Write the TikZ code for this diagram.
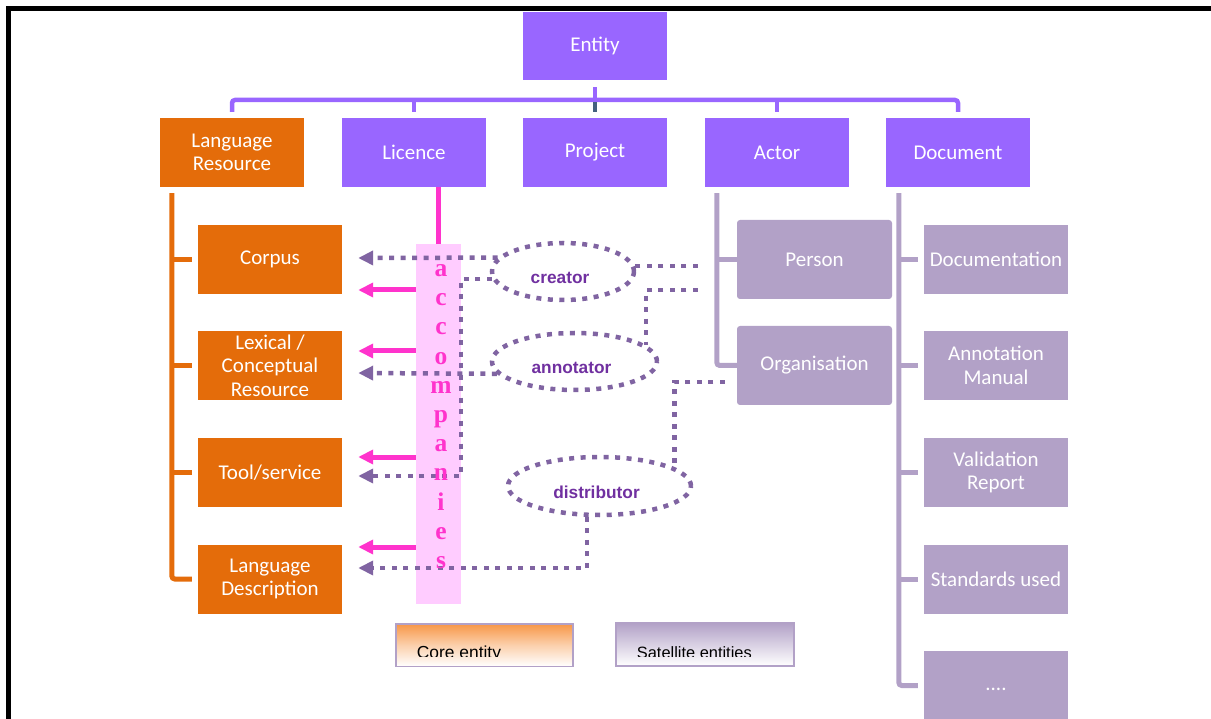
\documentclass[tikz,border=0pt]{standalone}
\usepackage{fontspec}
\setmainfont{Carlito}
\newfontfamily\arialf{Liberation Sans}
\newfontfamily\timesf{Liberation Serif}
\usetikzlibrary{shapes.geometric,arrows.meta}
\definecolor{orng}{HTML}{E46C0A}
\definecolor{purp}{HTML}{9966FF}
\definecolor{lav}{HTML}{B2A1C7}
\definecolor{pinkc}{HTML}{FF33CC}
\definecolor{pinkl}{HTML}{FFCCFF}
\definecolor{dotc}{HTML}{8064A2}
\definecolor{elltxt}{HTML}{7030A0}
\definecolor{slate}{HTML}{44607F}
\definecolor{legor}{HTML}{F79646}
\begin{document}
\begin{tikzpicture}[x=1pt,y=-1pt,
 box/.style={rectangle, inner sep=0pt, minimum width=144pt, minimum height=69pt, align=center, text=white, font=\fontsize{21}{23.5}\selectfont},
 corebox/.style={box, fill=orng},
 topbox/.style={box, fill=purp},
 satbox/.style={box, fill=lav},
 rsatbox/.style={satbox, rounded corners=3pt, minimum width=155pt, minimum height=79pt},
 otree/.style={draw=orng, line width=5pt, rounded corners=3pt},
 ltree/.style={draw=lav, line width=5pt, rounded corners=3pt},
 ptree/.style={draw=purp, line width=4.5pt, rounded corners=3pt},
 dotline/.style={draw=dotc, line width=4.5pt, dash pattern=on 5pt off 6.5pt},
 dotarrow/.style={dotline, -{Triangle[length=15pt,width=14pt]}},
 pinkarrow/.style={draw=pinkc, line width=5pt, -{Triangle[length=15pt,width=14pt]}},
 role/.style={ellipse, draw=dotc, line width=4.5pt, dash pattern=on 5pt off 6.5pt, inner sep=0pt},
 rolelbl/.style={font=\arialf\bfseries\fontsize{17.3}{20}\selectfont, text=elltxt, yshift=-6pt, xshift=-3pt},
 accl/.style={font=\timesf\bfseries\fontsize{25.5}{25.5}\selectfont, text=pinkc, anchor=base, inner sep=0pt},
 legbox/.style={rectangle, draw=lav, line width=1.5pt, inner sep=0pt},
 legtxt/.style={anchor=base west, inner sep=0pt, text=black}
]
\useasboundingbox (0,0) rectangle (1211,719);
% frame
\draw[line width=5pt, line join=miter] (8.5,719) -- (8.5,8.3) -- (1211,8.3);

% boxes
\node[topbox, minimum height=68pt] (entity) at (595,46) {Entity};
\node[corebox] (lr) at (232,152.5) {Language\\Resource};
\node[topbox] (lic) at (414,152.5) {Licence};
\node[topbox] (proj) at (595,152.5) {Project};
\node[topbox] (actor) at (777,152.5) {Actor};
\node[topbox] (doc) at (958,152.5) {Document};

\node[corebox] (corpus) at (270,259.5) {Corpus};
\node[corebox] (lex) at (270,365.5) {Lexical /\\Conceptual\\Resource};
\node[corebox] (tool) at (270,472.5) {Tool/service};
\node[corebox] (ld) at (270,579) {Language\\Description};

\node[rsatbox] (person) at (814.5,259.5) {Person};
\node[rsatbox] (org) at (814.5,365.5) {Organisation};

\node[satbox] (docu) at (996,259.5) {Documentation};
\node[satbox] (annman) at (996,365.5) {Annotation\\Manual};
\node[satbox] (valrep) at (996,472.5) {Validation\\Report};
\node[satbox] (std) at (996,579) {Standards used};
\node[satbox] (more) at (996,685.5) {\strut....};

% top-level connectors
\coordinate (barY) at (0,100);
\coordinate (barY2) at (0,102.5);
\draw[ptree, rounded corners=0pt] ([yshift=-7pt]entity.south) -- (entity.south |- barY);
\draw[ptree] ([yshift=6pt]lr.north) -- (lr.north |- barY) -- (doc.north |- barY) -- ([yshift=6pt]doc.north);
\draw[ptree] (lic.north |- barY) -- ([yshift=6pt]lic.north);
\draw[ptree] (actor.north |- barY) -- ([yshift=6pt]actor.north);
\draw[ptree, draw=slate, line width=3.5pt] (proj.north |- barY2) -- ([yshift=6pt]proj.north);

% orange tree
\coordinate (ot) at ([xshift=12pt,yshift=-6pt]lr.south west);
\draw[otree] (ot) |- ([xshift=-6pt]ld.west);
\foreach \n in {corpus,lex,tool} \draw[otree, rounded corners=0pt] (ot |- \n.west) -- ([xshift=-6pt]\n.west);

% actor tree
\coordinate (at) at ([xshift=12pt,yshift=-6pt]actor.south west);
\draw[ltree] (at) |- (org.west);
\draw[ltree, rounded corners=0pt] (at |- person.west) -- (person.west);

% document tree
\coordinate (dt) at ([xshift=13pt,yshift=-6pt]doc.south west);
\draw[ltree] (dt) |- ([xshift=-6pt]more.west);
\foreach \n in {docu,annman,valrep,std} \draw[ltree, rounded corners=0pt] (dt |- \n.west) -- ([xshift=-6pt]\n.west);

% licence / accompanies
\node[rectangle, fill=pinkl, minimum width=45pt, minimum height=360pt, inner sep=0pt] (accrect) at (438.5,424) {};
\draw[pinkc, line width=5pt] (lic.south -| accrect.north) -- (accrect.north);

\coordinate (tcD) at ([xshift=16pt,yshift=1.5pt]corpus.east);
\coordinate (tcP) at ([xshift=16pt,yshift=-30.5pt]corpus.east);
\coordinate (tlP) at ([xshift=16pt,yshift=14.5pt]lex.east);
\coordinate (tlD) at ([xshift=16pt,yshift=-7.5pt]lex.east);
\coordinate (ttP) at ([xshift=16pt,yshift=15.5pt]tool.east);
\coordinate (ttD) at ([xshift=16pt,yshift=-3.5pt]tool.east);
\coordinate (tdP) at ([xshift=16pt,yshift=32pt]ld.east);
\coordinate (tdD) at ([xshift=16pt,yshift=11pt]ld.east);

\foreach \t in {tcP,tlP,ttP,tdP} \draw[pinkarrow] (accrect.west |- \t) -- (\t);

% roles
\node[role, minimum width=142pt, minimum height=57pt, label={[rolelbl]center:creator}] (creator) at (563,271.5) {};
\node[role, minimum width=165pt, minimum height=57pt, label={[rolelbl]center:annotator}] (annot) at (574.5,361.5) {};
\node[role, minimum width=183pt, minimum height=58pt, label={[rolelbl]center:distributor}] (distr) at (599.5,486) {};

\coordinate (pA) at ([xshift=-39pt,yshift=-6.5pt]person.west);
\coordinate (pB) at ([xshift=-39pt,yshift=-30.5pt]person.west);
\coordinate (oA) at ([xshift=-12pt,yshift=-16.5pt]org.west);

\draw[dotarrow] (creator.168) -- (tcD);
\draw[dotarrow] (creator.186) -| (ttD -| accrect.east) -- (ttD);
\draw[dotarrow] (annot.189) -- (tlD);
\draw[dotarrow] (distr.248) |- (tdD);
\draw[dotline] (pA) -- (pA -| creator.5);
\draw[dotline] (pB) -| (annot.13);
\draw[dotline] (oA) -| (distr.14);

% letters
\foreach \l [count=\i from 0] in {a,c,c,o,m,p,a,n,i,e,s}
  \node[accl] (acc\i) at (441,{276.5+29.2*\i}) {\l};

% legend
\node[legbox, top color=legor, bottom color=white, middle color=legor!45, minimum width=177pt, minimum height=42.5pt] (core) at (484.5,645) {};
\begin{scope}
\clip ([xshift=2pt]core.north west) rectangle ([xshift=-2pt,yshift=-33.5pt]core.north east);
\node[legtxt, font=\arialf\fontsize{17.4}{20}\selectfont] (coretxt) at (416.7,658) {Core entity};
\end{scope}
\node[legbox, top color=lav, bottom color=white, minimum width=178pt, minimum height=43pt] (sat) at (705,644.5) {};
\begin{scope}
\clip ([xshift=2pt]sat.north west) rectangle ([xshift=-2pt,yshift=-34.5pt]sat.north east);
\node[legtxt, font=\arialf\fontsize{16.4}{20}\selectfont] (sattxt) at (636.7,658.5) {Satellite entities};
\end{scope}
\end{tikzpicture}
\end{document}
